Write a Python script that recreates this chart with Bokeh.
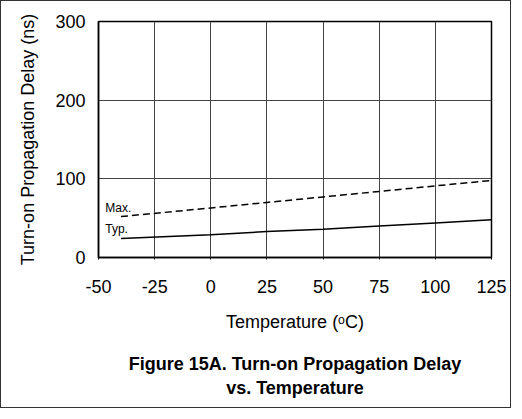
from bokeh.plotting import figure
from bokeh.models import Range1d, FixedTicker, LinearAxis
from bokeh.core.properties import value
from bokeh.embed import file_html
from bokeh.resources import INLINE

# ---- data ----
temperature = [-40, 0, 25, 50, 75, 100, 125]
delay_max = [52, 63, 70, 77, 84, 91, 98]
delay_typ = [24, 29, 33, 36, 40, 44, 48]
x_ticks = [-50, -25, 0, 25, 50, 75, 100, 125]
x_tick_labels = ["-50", "-25", "0", "25", "50", "75", "100", "125"]
y_ticks = [0, 100, 200, 300]
series_labels = ["Max.", "Typ."]
caption = "Figure 15A. Turn-on Propagation Delay\nvs. Temperature"

FONT = "Liberation Sans"
W, H = 511, 408

p = figure(width=W, height=H, output_backend="svg", toolbar_location=None,
           x_range=Range1d(-50, 125), y_range=Range1d(0, 300),
           min_border_left=97, min_border_right=21, min_border_top=20,
           min_border_bottom=152)
p.styles = {"border": "1px solid #333333"}
p.background_fill_color = "white"
p.border_fill_color = "white"
p.outline_line_color = "black"
p.outline_line_width = 1.5

# axes
for ax in (p.xaxis[0], p.yaxis[0]):
    ax.axis_line_color = "black"
    ax.axis_line_width = 1.5
    ax.major_tick_in = 0
    ax.minor_tick_line_color = None
    ax.major_label_text_font = FONT
    ax.major_label_text_font_size = "18px"
    ax.major_label_text_color = "black"
    ax.axis_label_text_font = FONT
    ax.axis_label_text_font_size = "18px"
    ax.axis_label_text_font_style = "normal"
    ax.axis_label_text_color = "black"

p.xaxis.ticker = FixedTicker(ticks=x_ticks)
p.xaxis.major_label_overrides = dict(zip(x_ticks, x_tick_labels))
p.yaxis.ticker = FixedTicker(ticks=y_ticks)
p.xaxis.major_tick_out = 2
p.yaxis.major_tick_out = 0
p.xaxis.major_label_standoff = 20
p.yaxis.major_label_standoff = 13
p.xaxis.axis_label = "Temperature (ᵒC)"
p.yaxis.axis_label = "Turn-on Propagation Delay (ns)"
p.xaxis.axis_label_standoff = 16
p.yaxis.axis_label_standoff = 14

p.xgrid.ticker = FixedTicker(ticks=x_ticks)
p.ygrid.ticker = FixedTicker(ticks=y_ticks)
for g in (p.xgrid[0], p.ygrid[0]):
    g.grid_line_color = "#444444"
    g.grid_line_width = 1

# series
p.line(temperature, delay_max, line_color="black", line_width=1.5, line_dash="7 4")
p.line(temperature, delay_typ, line_color="black", line_width=1.5)

p.text(x=[-47, -47], y=[63, 36.5], text=series_labels,
       text_font=value(FONT), text_font_size="12px", text_color="black",
       text_baseline="middle", text_align="left")

# caption below the chart (two lines), carried by a bare extra axis
cap_axis = LinearAxis(ticker=FixedTicker(ticks=[]), axis_label=caption,
                      axis_line_color=None, major_tick_line_color=None,
                      minor_tick_line_color=None, major_tick_out=0, major_tick_in=0,
                      major_label_text_font_size="0px", major_label_standoff=0,
                      axis_label_standoff=19, axis_label_text_font=FONT,
                      axis_label_text_font_size="18px", axis_label_text_font_style="bold",
                      axis_label_text_color="black")
p.add_layout(cap_axis, "below")

open("out.html", "w").write(file_html(p, INLINE))
